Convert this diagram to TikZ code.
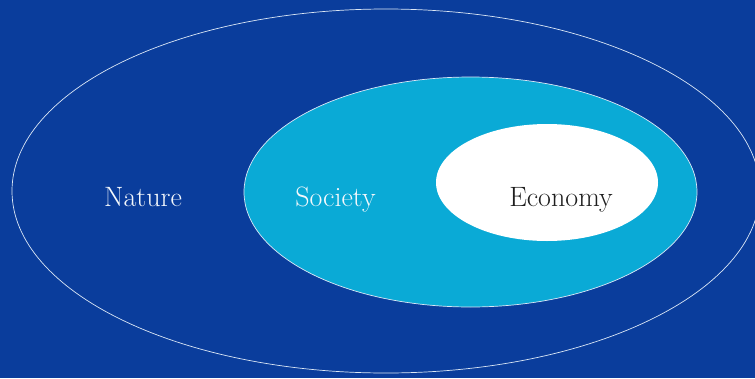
\documentclass[tikz,border=0pt]{standalone}
\usetikzlibrary{shapes.geometric}
\definecolor{bgDeep}{HTML}{0A3D9C}
\definecolor{ringLine}{HTML}{DCE8F6}
\definecolor{fillSociety}{HTML}{0AAAD6}
\definecolor{fillEconomy}{HTML}{FFFFFF}
\definecolor{textLight}{HTML}{F4F8FC}
\definecolor{textDark}{HTML}{1E1E1E}
\tikzset{
  sphere/.style={ellipse, inner sep=0pt, outer sep=0pt, line width=0.7pt},
  tag/.style={font=\fontsize{28}{32}\selectfont, anchor=base, inner sep=0pt},
}
\begin{document}
\begin{tikzpicture}[x=1pt, y=-1pt]

  % === Canvas ===
  \fill[bgDeep] (0,0) rectangle (755,378);
  \useasboundingbox (0,0) rectangle (755,378);
  \clip (0,0) rectangle (755,378);

  % === Nested spheres ===
  \node[sphere, draw=ringLine, minimum width=748pt, minimum height=364pt] (nature) at (386,191) {};
  \node[sphere, draw=ringLine, fill=fillSociety, minimum width=453pt, minimum height=230pt] (society) at (470.5,192) {};
  \node[sphere, fill=fillEconomy, minimum width=222pt, minimum height=117pt] (economy) at (547,182.5) {};

  % === Labels ===
  \node[tag, text=textLight] (natureTag) at (143,206) {Nature};
  \node[tag, text=textLight] (societyTag) at (335.5,206) {Society};
  \node[tag, text=textDark] (economyTag) at (561,206) {Economy};

\end{tikzpicture}
\end{document}
